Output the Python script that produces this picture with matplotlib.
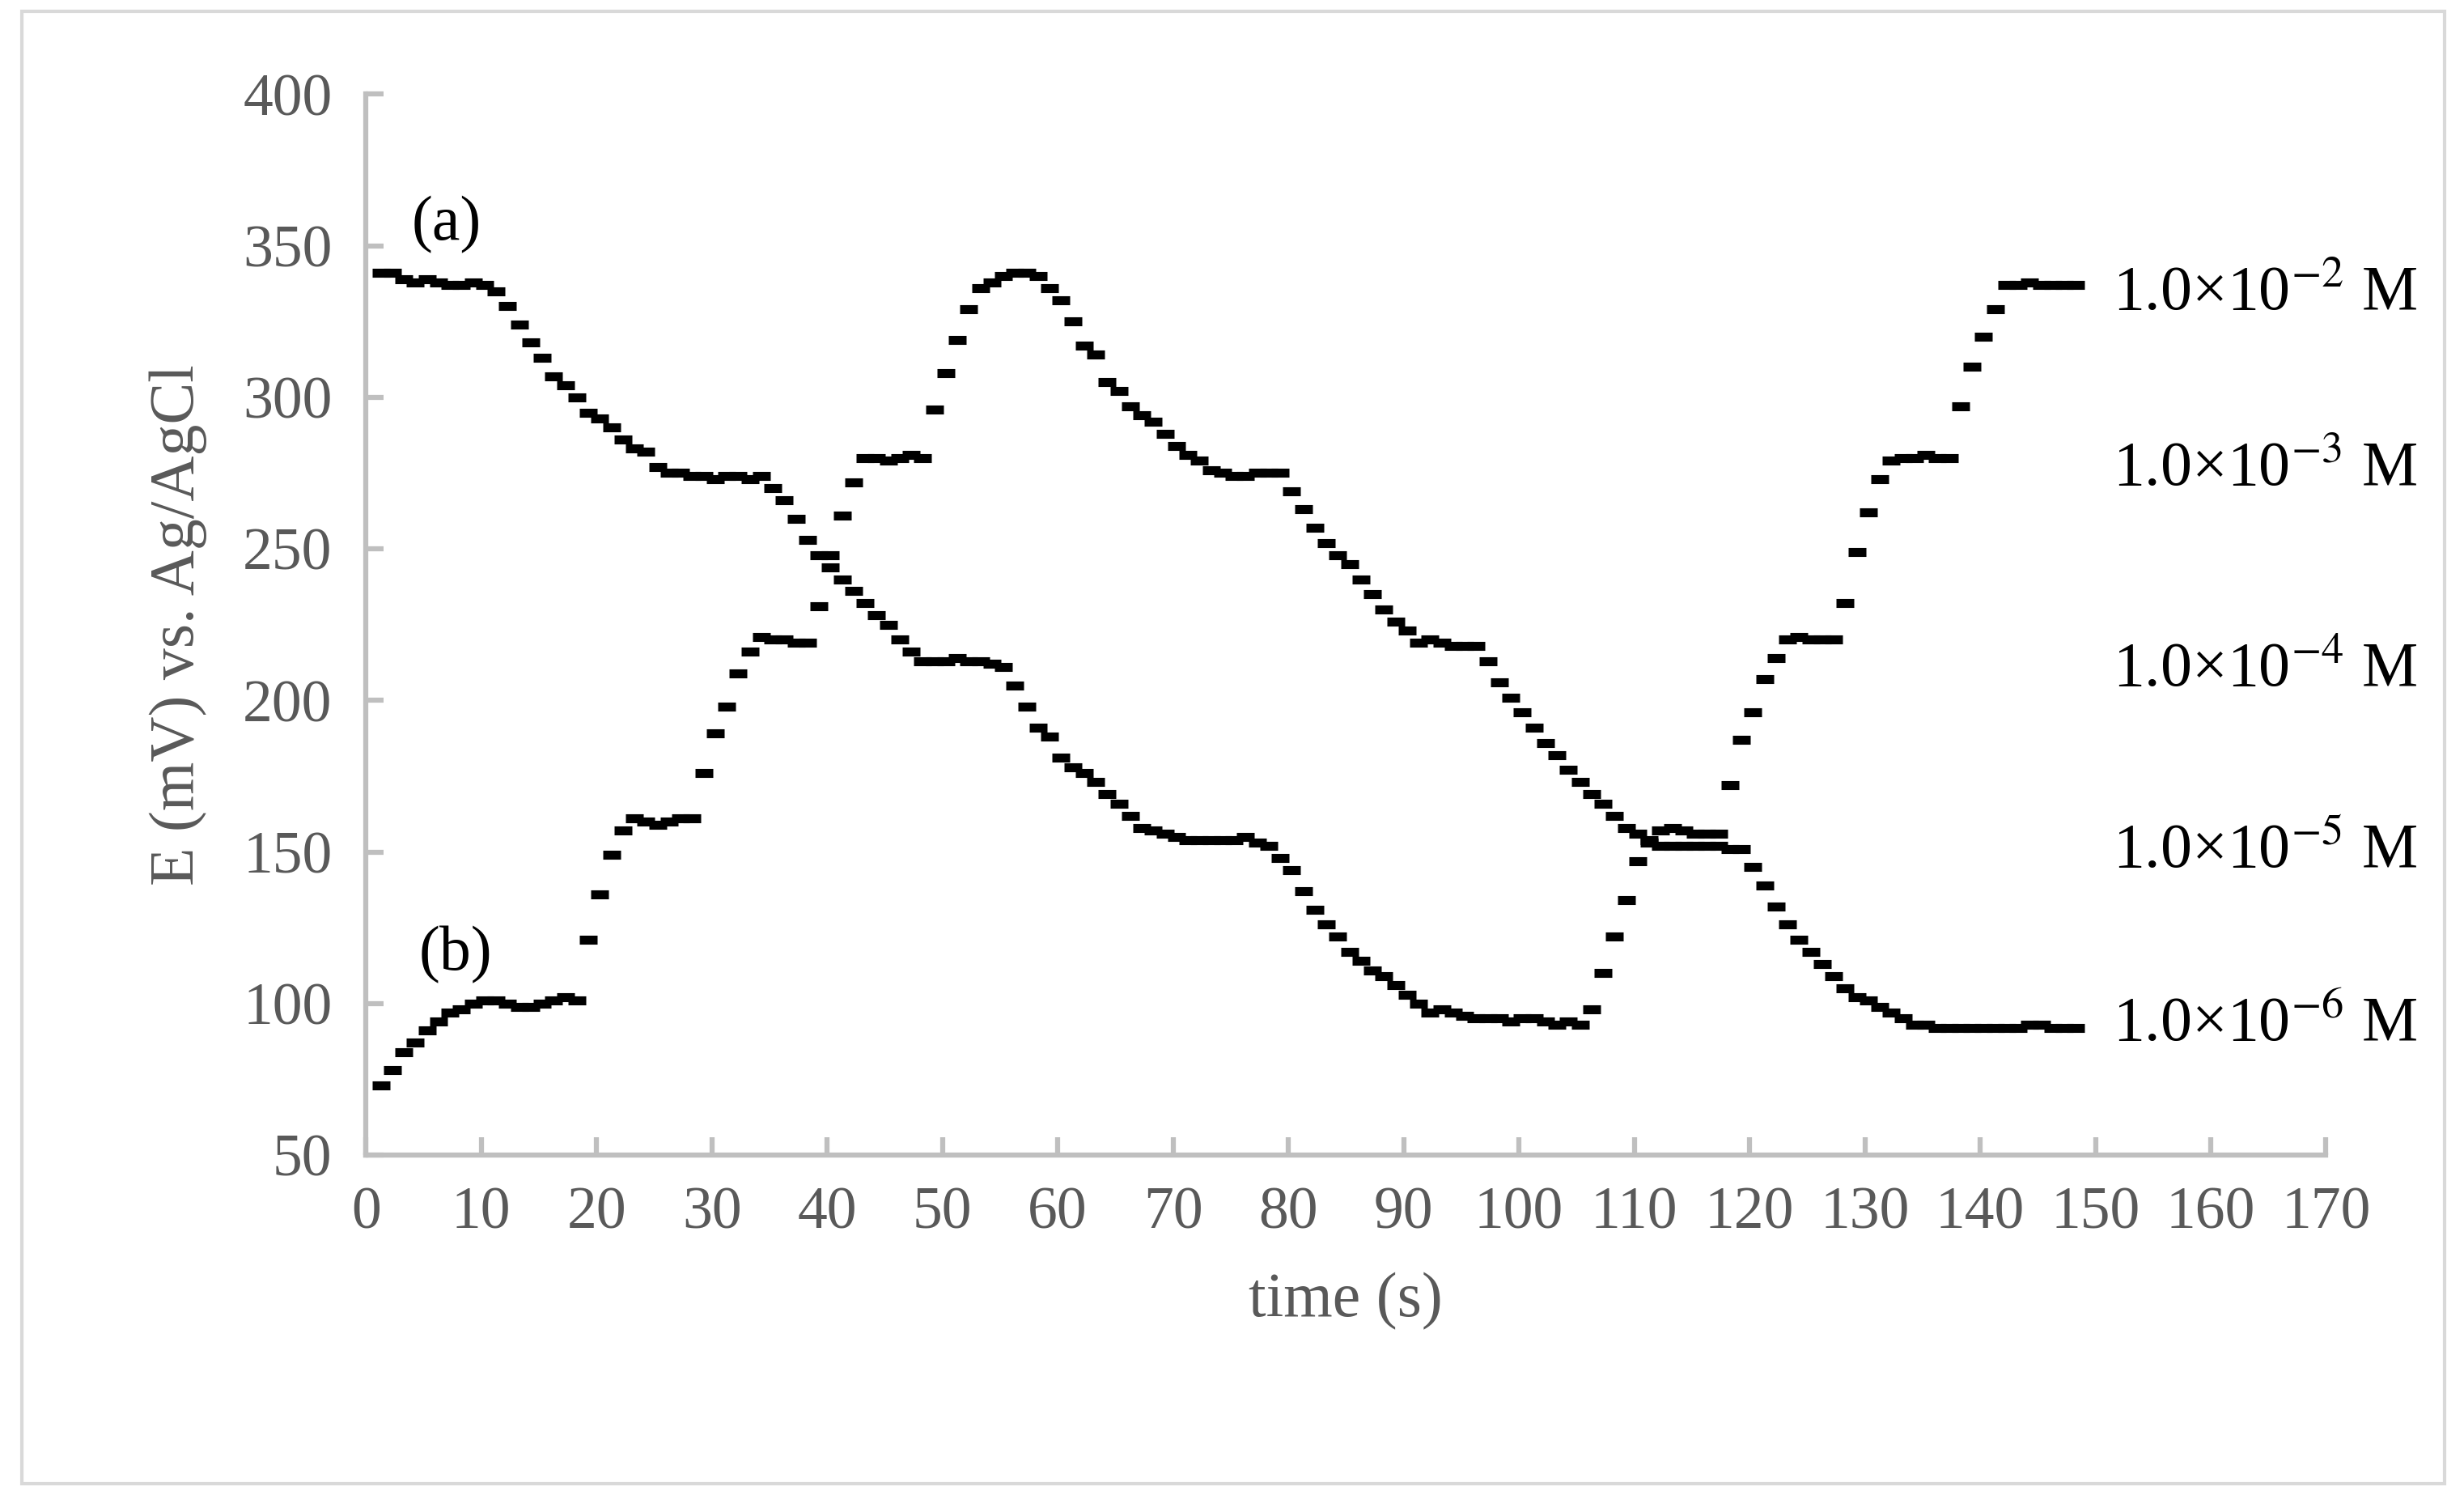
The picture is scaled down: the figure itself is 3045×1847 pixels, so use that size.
import numpy as np
import matplotlib
matplotlib.use("Agg")
import matplotlib.pyplot as plt
from matplotlib.patches import Rectangle

plt.rcParams['font.family'] = ['Liberation Serif', 'DejaVu Serif']
plt.rcParams['mathtext.fontset'] = 'stix'

# time points (s) and potentials (mV)
t = np.arange(1, 149) + 0.3

curve_a = [341, 341, 339, 338, 339, 338, 337, 337, 338, 337,
           335, 330, 324, 318, 313, 307, 304, 300, 295, 293,
           290, 286, 283, 282, 277, 275, 275, 274, 274, 273,
           274, 274, 273, 274, 270, 266, 260, 253, 248, 244,
           240, 236, 232, 228, 225, 220, 216, 213, 213, 213,
           214, 213, 213, 212, 211, 205, 198, 191, 188, 181,
           178, 176, 173, 169, 166, 162, 158, 157, 156, 155,
           154, 154, 154, 154, 154, 155, 153, 152, 148, 144,
           137, 131, 126, 122, 117, 114, 111, 109, 106, 103,
           100, 97, 98, 97, 96, 95, 95, 95, 94, 95,
           95, 94, 93, 94, 93, 98, 110, 122, 134, 147,
           154, 157, 158, 157, 156, 156, 156, 172, 187, 196,
           207, 214, 220, 221, 220, 220, 220, 232, 249, 262,
           273, 279, 280, 280, 281, 280, 280, 297, 310, 320,
           329, 337, 337, 338, 337, 337, 337, 337]

curve_b = [73, 78, 84, 87, 91, 94, 97, 98, 100, 101,
           101, 100, 99, 99, 100, 101, 102, 101, 121, 136,
           149, 157, 161, 160, 159, 160, 161, 161, 176, 189,
           198, 209, 216, 221, 220, 220, 219, 219, 231, 248,
           261, 272, 280, 280, 279, 280, 281, 280, 296, 308,
           319, 329, 336, 338, 340, 341, 341, 340, 336, 332,
           325, 317, 314, 305, 302, 297, 294, 292, 288, 284,
           281, 279, 276, 275, 274, 274, 275, 275, 275, 269,
           263, 257, 252, 248, 245, 240, 235, 230, 226, 223,
           219, 220, 219, 218, 218, 218, 213, 206, 201, 196,
           191, 186, 182, 177, 173, 169, 166, 162, 158, 156,
           153, 152, 152, 152, 152, 152, 152, 151, 151, 145,
           139, 132, 126, 121, 117, 113, 109, 105, 102, 101,
           99, 97, 95, 93, 93, 92, 92, 92, 92, 92,
           92, 92, 92, 93, 93, 92, 92, 92]

conc_labels = [r'1.0×10$^{-2}$ M', r'1.0×10$^{-3}$ M', r'1.0×10$^{-4}$ M',
               r'1.0×10$^{-5}$ M', r'1.0×10$^{-6}$ M']
conc_y = [334, 276, 210, 150, 93]

fig = plt.figure(figsize=(30.45, 18.47), dpi=100)
ax = fig.add_axes([0.1485, 0.2274, 0.7955, 0.7096])

ax.plot(t, curve_a, linestyle='none', marker='_', markersize=16, markeredgewidth=8, color='black')
ax.plot(t, curve_b, linestyle='none', marker='_', markersize=16, markeredgewidth=8, color='black')

ax.set_xlim(0, 170)
ax.set_ylim(50, 400)
ax.set_xticks(range(0, 171, 10))
ax.set_yticks(range(50, 401, 50))

grey = '#bfbfbf'
for s in ['top', 'right']:
    ax.spines[s].set_visible(False)
for s in ['left', 'bottom']:
    ax.spines[s].set_color(grey)
    ax.spines[s].set_linewidth(4.5)
ax.tick_params(direction='in', length=16, width=4.5, color=grey,
               labelsize=53, labelcolor='#595959')
ax.tick_params(axis='x', pad=28)
ax.tick_params(axis='y', pad=30)

ax.set_xlabel('time (s)', fontsize=56, color='#595959', labelpad=28)
ax.set_ylabel('E (mV) vs. Ag/AgCl', fontsize=56, color='#595959', labelpad=32)

ax.text(7, 357, '(a)', fontsize=56, ha='center', va='center')
ax.text(7.8, 116, '(b)', fontsize=56, ha='center', va='center')

for lab, yv in zip(conc_labels, conc_y):
    ax.text(151.5, yv, lab, fontsize=56, ha='left', va='center', clip_on=False)

fig.patches.append(Rectangle((0.009, 0.0076), 0.983, 0.9848, transform=fig.transFigure,
                             fill=False, edgecolor='#d9d9d9', linewidth=3))

fig.savefig('out.png', dpi=100)
